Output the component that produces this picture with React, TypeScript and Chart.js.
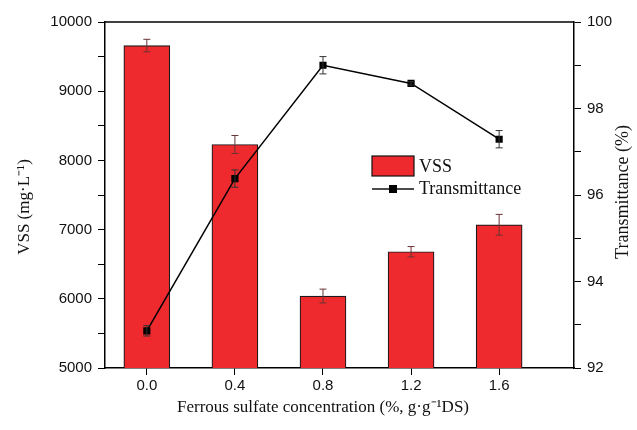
import React, { useEffect, useRef } from 'react';
import { Chart, registerables } from 'chart.js';

Chart.register(...registerables);

const concentrations = [0.0, 0.4, 0.8, 1.2, 1.6];
const vss = [9660, 8230, 6040, 6680, 7070];
const vssErr = [90, 130, 100, 75, 150];
const transmittance = [92.86, 96.38, 99.0, 98.58, 97.29];
const transErr = [0.12, 0.2, 0.2, 0.04, 0.2];
const vssTickLabels = [5000, 6000, 7000, 8000, 9000, 10000];
const transTickLabels = [92, 94, 96, 98, 100];
const xTitle = 'Ferrous sulfate concentration (%, g·g⁻¹DS)';
const yTitle = 'VSS (mg·L⁻¹)';
const y1Title = 'Transmittance (%)';

const SERIF = '"Liberation Serif", "Times New Roman", serif';
const SANS = '"Liberation Sans", Arial, sans-serif';
const RED = '#ee2a2e';

const overlay = {
  id: 'overlay',
  afterDatasetsDraw(chart: any) {
    const ctx = chart.ctx;
    const x = chart.scales.x;
    const y = chart.scales.y;
    const y1 = chart.scales.y1;
    ctx.save();
    ctx.lineWidth = 1;
    const drawErr = (cx: number, top: number, bot: number, color: string) => {
      ctx.strokeStyle = color;
      ctx.beginPath();
      ctx.moveTo(cx, top);
      ctx.lineTo(cx, bot);
      ctx.moveTo(cx - 3.5, top);
      ctx.lineTo(cx + 3.5, top);
      ctx.moveTo(cx - 3.5, bot);
      ctx.lineTo(cx + 3.5, bot);
      ctx.stroke();
    };
    concentrations.forEach((c, i) => {
      const cx = x.getPixelForValue(c);
      drawErr(cx, y.getPixelForValue(vss[i] + vssErr[i]), y.getPixelForValue(vss[i] - vssErr[i]), '#6a3434');
    });
    concentrations.forEach((c, i) => {
      const cx = x.getPixelForValue(c);
      drawErr(cx, y1.getPixelForValue(transmittance[i] + transErr[i]), y1.getPixelForValue(transmittance[i] - transErr[i]), '#333');
    });
    ctx.restore();
  },
  afterDraw(chart: any) {
    const ctx = chart.ctx;
    const a = chart.chartArea;
    ctx.save();
    // top frame line
    ctx.strokeStyle = '#000';
    ctx.lineWidth = 1.5;
    ctx.beginPath();
    ctx.moveTo(a.left, a.top);
    ctx.lineTo(a.right, a.top);
    ctx.stroke();

    // axis titles
    ctx.fillStyle = '#111';
    ctx.font = '17px ' + SERIF;
    ctx.textAlign = 'center';
    ctx.textBaseline = 'middle';
    ctx.fillText(xTitle, 323, 408);

    ctx.save();
    ctx.translate(25, 207);
    ctx.rotate(-Math.PI / 2);
    ctx.fillText(yTitle, 0, 0);
    ctx.restore();

    ctx.save();
    ctx.font = '18px ' + SERIF;
    ctx.translate(623, 192);
    ctx.rotate(-Math.PI / 2);
    ctx.fillText(y1Title, 0, 0);
    ctx.restore();

    // legend
    const lx = 372;
    ctx.fillStyle = RED;
    ctx.fillRect(lx, 156, 42, 20);
    ctx.strokeStyle = '#111';
    ctx.lineWidth = 1.2;
    ctx.strokeRect(lx, 156, 42, 20);
    ctx.beginPath();
    ctx.lineWidth = 1.5;
    ctx.moveTo(lx, 189);
    ctx.lineTo(lx + 42, 189);
    ctx.stroke();
    ctx.fillStyle = '#000';
    ctx.fillRect(lx + 21 - 4, 189 - 4, 8, 8);
    ctx.fillStyle = '#111';
    ctx.font = '18px ' + SERIF;
    ctx.textAlign = 'left';
    ctx.fillText('VSS', 419, 167);
    ctx.fillText('Transmittance', 419, 189);
    ctx.restore();
  },
};

export default function App() {
  const ref = useRef<HTMLCanvasElement>(null);
  useEffect(() => {
    document.body.style.margin = '0';
    const canvas = ref.current!;
    const chart = new Chart(canvas, {
      type: 'bar',
      data: {
        datasets: [
          {
            type: 'line',
            label: 'Transmittance',
            data: concentrations.map((c, i) => ({ x: c, y: transmittance[i] })),
            borderColor: '#000',
            borderWidth: 1.5,
            pointStyle: 'rect',
            pointRadius: 4,
            pointBackgroundColor: '#000',
            pointBorderColor: '#000',
            yAxisID: 'y1',
            order: 0,
          } as any,
          {
            type: 'bar',
            label: 'VSS',
            data: concentrations.map((c, i) => ({ x: c, y: vss[i] })),
            backgroundColor: RED,
            borderColor: '#1a1a1a',
            borderWidth: 1.2,
            barThickness: 46,
            yAxisID: 'y',
            order: 1,
          } as any,
        ],
      },
      options: {
        animation: false,
        responsive: false,
        layout: { padding: { top: 22, left: 0, right: 0, bottom: 0 } },
        plugins: { legend: { display: false }, tooltip: { enabled: false } },
        scales: {
          x: {
            type: 'linear',
            min: -0.19,
            max: 1.94,
            offset: false,
            afterBuildTicks: (s: any) => {
              s.ticks = concentrations.map((v) => ({ value: v }));
            },
            afterFit: (s: any) => {
              s.height = 62;
            },
            ticks: {
              autoSkip: false,
              padding: 2,
              color: '#111',
              font: { family: SANS, size: 15 },
              callback: (v: any) => Number(v).toFixed(1),
            },
            grid: { drawOnChartArea: false, tickLength: 7, color: '#000', offset: false },
            border: { color: '#000', width: 1.5 },
          },
          y: {
            type: 'linear',
            position: 'left',
            min: 5000,
            max: 10000,
            afterFit: (s: any) => {
              s.width = 105;
            },
            ticks: {
              stepSize: 500,
              autoSkip: false,
              padding: 6,
              color: '#111',
              font: { family: SANS, size: 15 },
              callback: (v: any) => (vssTickLabels.includes(Number(v)) ? String(v) : ''),
            },
            grid: { drawOnChartArea: false, tickLength: 7, color: '#000' },
            border: { color: '#000', width: 1.5 },
          },
          y1: {
            type: 'linear',
            position: 'right',
            min: 92,
            max: 100,
            afterFit: (s: any) => {
              s.width = 63;
            },
            ticks: {
              stepSize: 1,
              autoSkip: false,
              padding: 6,
              color: '#111',
              font: { family: SANS, size: 15 },
              callback: (v: any) => (transTickLabels.includes(Number(v)) ? String(v) : ''),
            },
            grid: { drawOnChartArea: false, tickLength: 7, color: '#000' },
            border: { color: '#000', width: 1.5 },
          },
        },
      } as any,
      plugins: [overlay],
    });
    return () => chart.destroy();
  }, []);
  return (
    <div style={{ width: 637, height: 430, background: '#fff' }}>
      <canvas ref={ref} width={637} height={430} style={{ display: 'block' }} />
    </div>
  );
}
